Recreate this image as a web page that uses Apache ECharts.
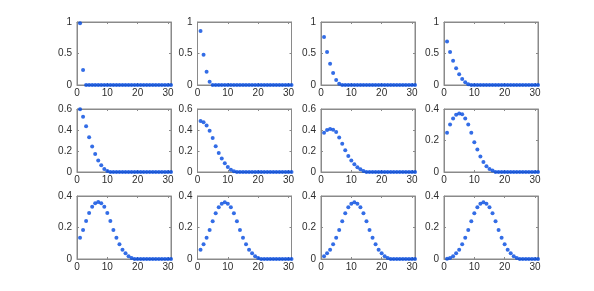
<!DOCTYPE html>
<html><head><meta charset="utf-8">
<script src="https://cdn.jsdelivr.net/npm/echarts@6/dist/echarts.min.js"></script>
<style>html,body{margin:0;padding:0;background:#fff}#c{width:594px;height:291px}</style>
</head><body><div id="c"></div>
<script>
const xs = [1,2,3,4,5,6,7,8,9,10,11,12,13,14,15,16,17,18,19,20,21,22,23,24,25,26,27,28,29,30,31];
const s1 = [0.98,0.24,0,0,0,0,0,0,0,0,0,0,0,0,0,0,0,0,0,0,0,0,0,0,0,0,0,0,0,0,0];
const s2 = [0.856,0.48,0.21,0.053,0,0,0,0,0,0,0,0,0,0,0,0,0,0,0,0,0,0,0,0,0,0,0,0,0,0,0];
const s3 = [0.76,0.524,0.337,0.19,0.08,0.02,0,0,0,0,0,0,0,0,0,0,0,0,0,0,0,0,0,0,0,0,0,0,0,0,0];
const s4 = [0.69,0.524,0.385,0.267,0.171,0.096,0.043,0.01,0,0,0,0,0,0,0,0,0,0,0,0,0,0,0,0,0,0,0,0,0,0,0];
const s5 = [0.597,0.526,0.435,0.332,0.242,0.171,0.11,0.065,0.029,0.01,0,0,0,0,0,0,0,0,0,0,0,0,0,0,0,0,0,0,0,0,0];
const s6 = [0.486,0.473,0.444,0.393,0.323,0.246,0.182,0.128,0.083,0.048,0.022,0.008,0,0,0,0,0,0,0,0,0,0,0,0,0,0,0,0,0,0,0];
const s7 = [0.374,0.40,0.409,0.403,0.38,0.329,0.268,0.208,0.153,0.109,0.073,0.045,0.026,0.01,0,0,0,0,0,0,0,0,0,0,0,0,0,0,0,0,0];
const s8 = [0.249,0.302,0.34,0.364,0.372,0.366,0.34,0.302,0.249,0.189,0.143,0.098,0.064,0.036,0.019,0.009,0,0,0,0,0,0,0,0,0,0,0,0,0,0,0];
const s9 = [0.135,0.184,0.241,0.292,0.332,0.354,0.362,0.354,0.332,0.292,0.241,0.184,0.135,0.093,0.059,0.036,0.017,0.006,0,0,0,0,0,0,0,0,0,0,0,0,0];
const s10 = [0.059,0.093,0.135,0.184,0.239,0.29,0.328,0.351,0.36,0.351,0.328,0.29,0.239,0.184,0.135,0.093,0.059,0.036,0.017,0.006,0,0,0,0,0,0,0,0,0,0,0];
const s11 = [0.017,0.036,0.059,0.093,0.135,0.184,0.239,0.29,0.328,0.351,0.36,0.351,0.328,0.29,0.239,0.184,0.135,0.093,0.059,0.036,0.017,0.006,0,0,0,0,0,0,0,0,0];
const s12 = [0.002,0.006,0.017,0.036,0.059,0.093,0.135,0.184,0.239,0.29,0.328,0.351,0.36,0.351,0.328,0.29,0.239,0.184,0.135,0.093,0.059,0.036,0.017,0.006,0,0,0,0,0,0,0];
const seriesList = [s1,s2,s3,s4,s5,s6,s7,s8,s9,s10,s11,s12];
const yMax = [1,1,1,1,0.6,0.6,0.6,0.4,0.4,0.4,0.4,0.4];
const yStep = [0.5,0.5,0.5,0.5,0.2,0.2,0.2,0.2,0.2,0.2,0.2,0.2];
const xMin = 0, xMax = 31, xStep = 10;

const colLeft = [77, 197.5, 321, 444];
const rowTop = [22, 109, 196];
const W = 94, H = 63;
const axisCol = '#8a8a8a', txtCol = '#2e2e2e', dotCol = '#0048e0';
const font = {fontFamily: 'Liberation Sans, Arial, sans-serif', fontSize: 10, color: txtCol};

const grid = [], xAxis = [], yAxis = [], series = [];
seriesList.forEach((vals, i) => {
  const r = Math.floor(i / 4), c = i % 4;
  grid.push({left: colLeft[c], top: rowTop[r], width: W, height: H, show: true, borderColor: axisCol, borderWidth: 1, backgroundColor: '#fff'});
  const xBase = {gridIndex: i, type: 'value', min: xMin, max: xMax, interval: xStep,
    axisLine: {show: true, onZero: false, lineStyle: {color: axisCol, width: 1}},
    axisTick: {show: true, inside: true, length: 2, lineStyle: {color: axisCol}},
    splitLine: {show: false}};
  xAxis.push(Object.assign({}, xBase, {position: 'bottom',
    axisLabel: Object.assign({show: true, margin: 3, showMaxLabel: false,
      formatter: v => (Math.abs(v % xStep) < 1e-9 ? String(v) : '')}, font)}));
  xAxis.push(Object.assign({}, xBase, {position: 'top', axisLabel: {show: false}}));
  const yBase = {gridIndex: i, type: 'value', min: 0, max: yMax[i], interval: yStep[i],
    axisLine: {show: true, onZero: false, lineStyle: {color: axisCol, width: 1}},
    axisTick: {show: true, inside: true, length: 2, lineStyle: {color: axisCol}},
    splitLine: {show: false}};
  yAxis.push(Object.assign({}, yBase, {position: 'left',
    axisLabel: Object.assign({show: true, margin: 5}, font)}));
  yAxis.push(Object.assign({}, yBase, {position: 'right', axisLabel: {show: false}}));
  series.push({type: 'scatter', xAxisIndex: 2 * i, yAxisIndex: 2 * i,
    data: xs.map((x, k) => [x, vals[k]]), symbol: 'circle', symbolSize: 4, clip: false,
    itemStyle: {color: dotCol}, emphasis: {disabled: true}, silent: true});
});

const chart = echarts.init(document.getElementById('c'), null, {renderer: 'canvas'});
chart.setOption({animation: false, backgroundColor: '#fff', grid, xAxis, yAxis, series});
</script></body></html>
